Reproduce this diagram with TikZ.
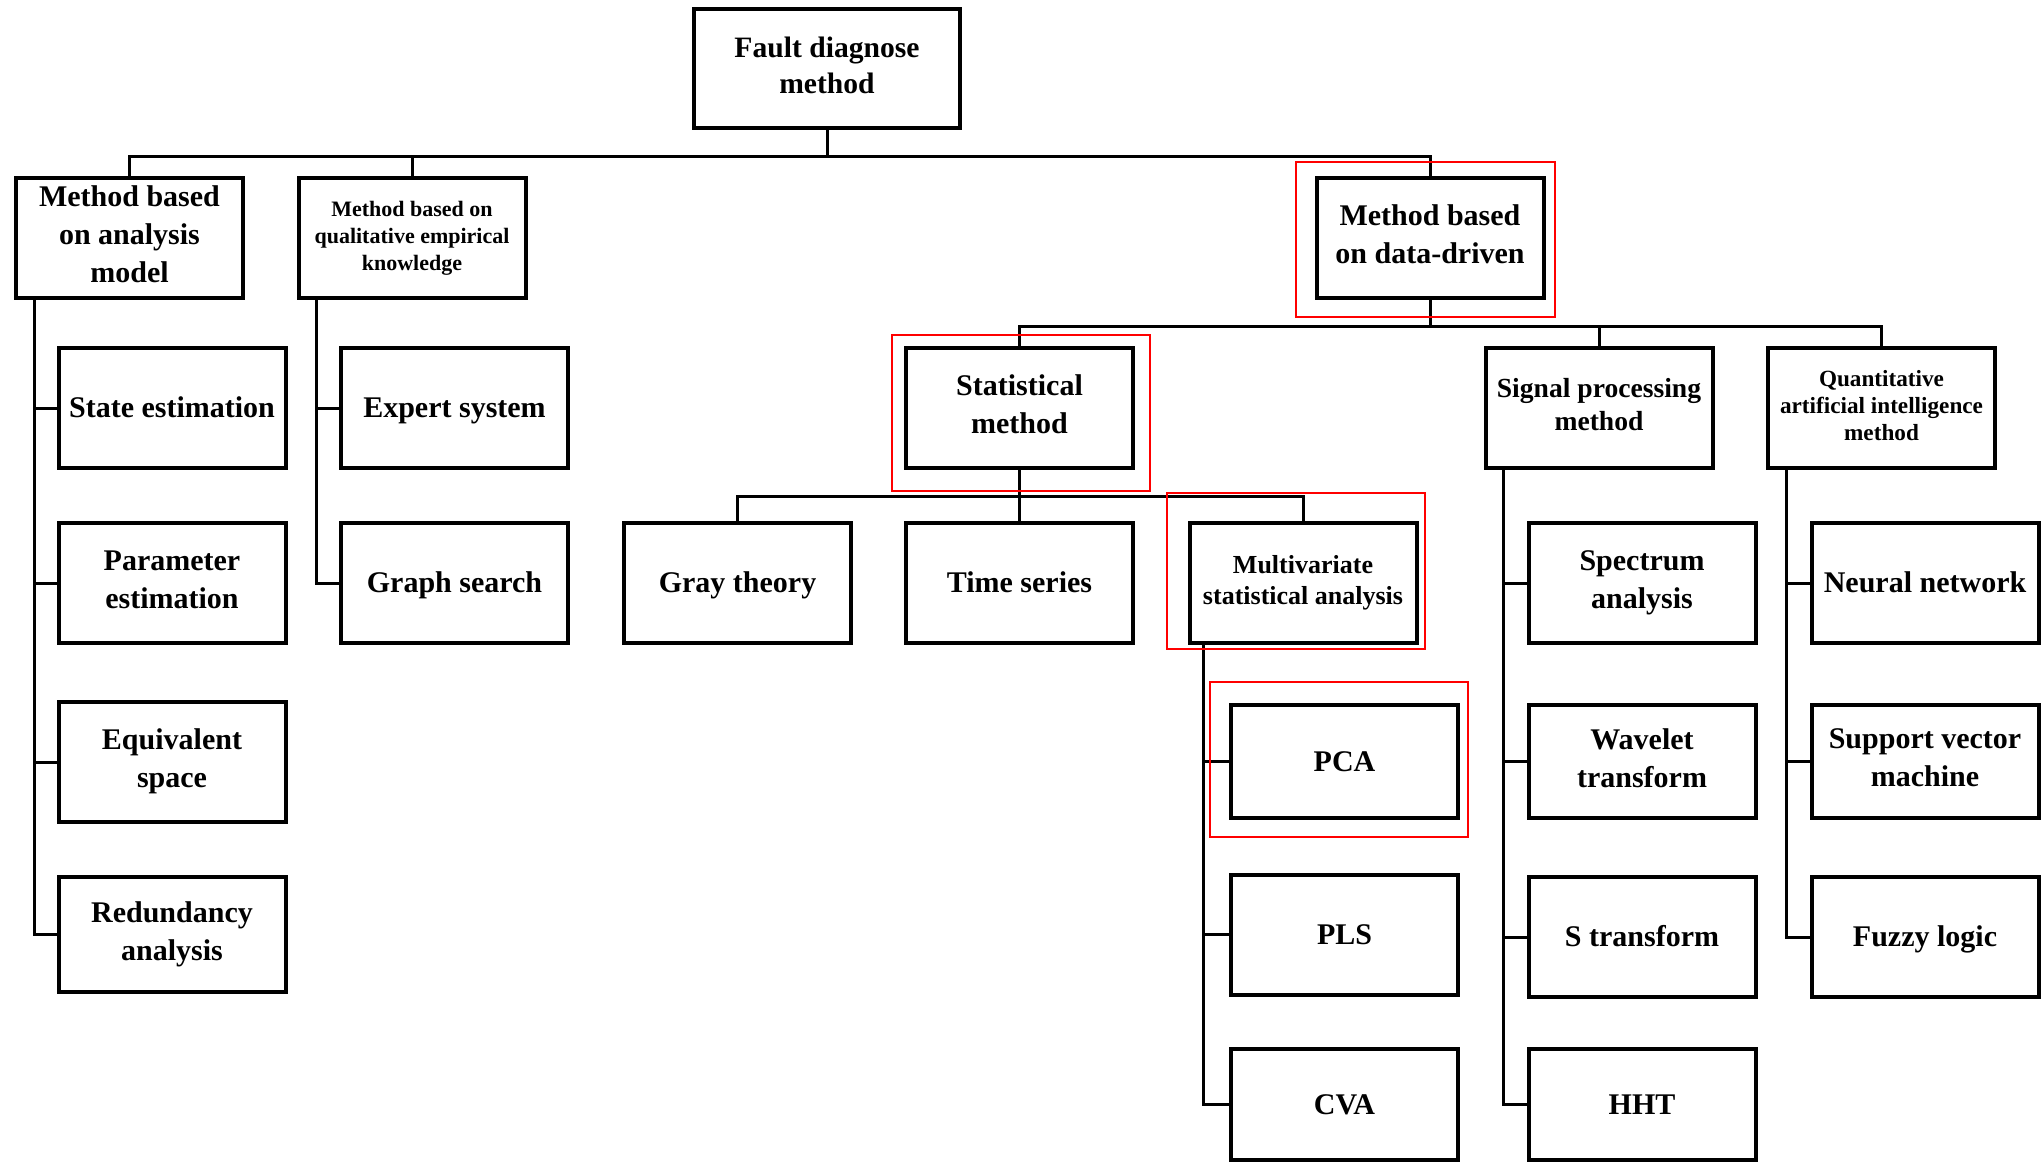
\documentclass[tikz,border=0pt]{standalone}
\usepackage{fontspec}
\setmainfont{Liberation Serif}
\begin{document}
\begin{tikzpicture}[x=0.5pt,y=-0.5pt,
  box/.style={draw, line width=2pt, fill=white, minimum width=113.5pt, minimum height=60pt,
              inner sep=1pt, align=center, font=\fontsize{15}{19}\selectfont\bfseries,
              execute at begin node=\rule{0pt}{0.9em},
              execute at end node=\rule[-0.24em]{0pt}{0pt}},
  textdrop/.style={execute at begin node={\rule{0pt}{\dimexpr 0.9em+#1\relax}}},
  textdrop/.default=4pt,
  small/.style={font=\fontsize{11}{13.5}\selectfont\bfseries},
  midsize/.style={font=\fontsize{13}{15.3}\selectfont\bfseries},
  sigsize/.style={font=\fontsize{13.8}{16.5}\selectfont\bfseries},
  quantsize/.style={font=\fontsize{11.6}{13.5}\selectfont\bfseries},
  short/.style={minimum height=56.5pt},
  low/.style={minimum height=55.5pt},
  link/.style={line width=1.5pt},
  hilite/.style={draw=red, line width=1pt}
]
\useasboundingbox (0,0) rectangle (2044,1163);

% top level
\node[box, textdrop, minimum width=133pt, minimum height=59.5pt, font=\fontsize{14.8}{18}\selectfont\bfseries]
  (root) at (827,68.5) {Fault diagnose\\method};
\node[box, textdrop] (ana)  at (129.5,238) {Method based\\on analysis\\model};
\node[box, small, textdrop=2pt] (qual) at (412,238) {Method based on\\qualitative empirical\\knowledge};
\node[box, textdrop] (data) at (1430,238) {Method based\\on data-driven};

% analysis-model branch
\node[box] (state) at (172,408) {State estimation};
\node[box, textdrop] (param) at (172,583) {Parameter\\estimation};
\node[box, textdrop] (equiv) at (172,762) {Equivalent\\space};
\node[box, textdrop, minimum height=57.5pt] (redun) at (172,934.5) {Redundancy\\analysis};

% qualitative branch
\node[box] (expert) at (454.5,408) {Expert system};
\node[box] (graph)  at (454.5,583) {Graph search};

% data-driven branch
\node[box, textdrop] (stat)  at (1019.5,408) {Statistical\\method};
\node[box, sigsize, textdrop=2pt] (sig) at (1599,408) {Signal processing\\method};
\node[box, quantsize, textdrop=2pt] (quant) at (1881.5,408) {Quantitative\\artificial intelligence\\method};

% statistical methods
\node[box] (gray) at (737.5,583) {Gray theory};
\node[box] (time) at (1019.5,583) {Time series};
\node[box, midsize, textdrop=2pt] (multi) at (1303,583) {Multivariate\\statistical analysis};
\node[box, short] (pca) at (1344.5,761.5) {PCA};
\node[box] (pls) at (1344.5,934.5) {PLS};
\node[box, low] (cva) at (1344.5,1104.5) {CVA};

% signal processing methods
\node[box, textdrop] (spec) at (1642,583) {Spectrum\\analysis};
\node[box, short, textdrop] (wave) at (1642,761.5) {Wavelet\\transform};
\node[box] (strans) at (1642,937) {S transform};
\node[box, low] (hht) at (1642,1104.5) {HHT};

% artificial intelligence methods
\node[box] (neural) at (1925,583) {Neural network};
\node[box, short, textdrop] (svm) at (1925,761.5) {Support vector\\machine};
\node[box] (fuzzy) at (1925,937) {Fuzzy logic};

% bus lines and spines
\coordinate (bus1) at (827,156);
\coordinate (bus2) at (1430,326);
\coordinate (bus3) at (1019.5,496);
\coordinate (anaX) at (34,0);
\coordinate (qualX) at (316,0);
\coordinate (multiX) at (1203,0);
\coordinate (sigX) at (1503,0);
\coordinate (quantX) at (1786,0);

\draw[link] (root.south) -- (bus1);
\draw[link] (ana.north) -- (ana.north |- bus1) -- (data.north |- bus1) -- (data.north);
\draw[link] (qual.north) -- (qual.north |- bus1);

\draw[link] (data.south) -- (bus2);
\draw[link] (stat.north) -- (stat.north |- bus2) -- (quant.north |- bus2) -- (quant.north);
\draw[link] (sig.north) -- (sig.north |- bus2);

\draw[link] (stat.south) -- (bus3);
\draw[link] (gray.north) -- (gray.north |- bus3) -- (multi.north |- bus3) -- (multi.north);
\draw[link] (time.north) -- (time.north |- bus3);

\draw[link] (ana.south -| anaX) |- (redun.west);
\foreach \n in {state,param,equiv} \draw[link] (anaX |- \n.west) -- (\n.west);

\draw[link] (qual.south -| qualX) |- (graph.west);
\draw[link] (qualX |- expert.west) -- (expert.west);

\draw[link] (multi.south -| multiX) |- (cva.west);
\foreach \n in {pca,pls} \draw[link] (multiX |- \n.west) -- (\n.west);

\draw[link] (sig.south -| sigX) |- (hht.west);
\foreach \n in {spec,wave,strans} \draw[link] (sigX |- \n.west) -- (\n.west);

\draw[link] (quant.south -| quantX) |- (fuzzy.west);
\foreach \n in {neural,svm} \draw[link] (quantX |- \n.west) -- (\n.west);

% highlight frames
\draw[hilite] (1296,162) rectangle (1555,317);
\draw[hilite] (892,335) rectangle (1150,491);
\draw[hilite] (1167,493) rectangle (1425,649);
\draw[hilite] (1210,682) rectangle (1468,837);
\end{tikzpicture}
\end{document}
